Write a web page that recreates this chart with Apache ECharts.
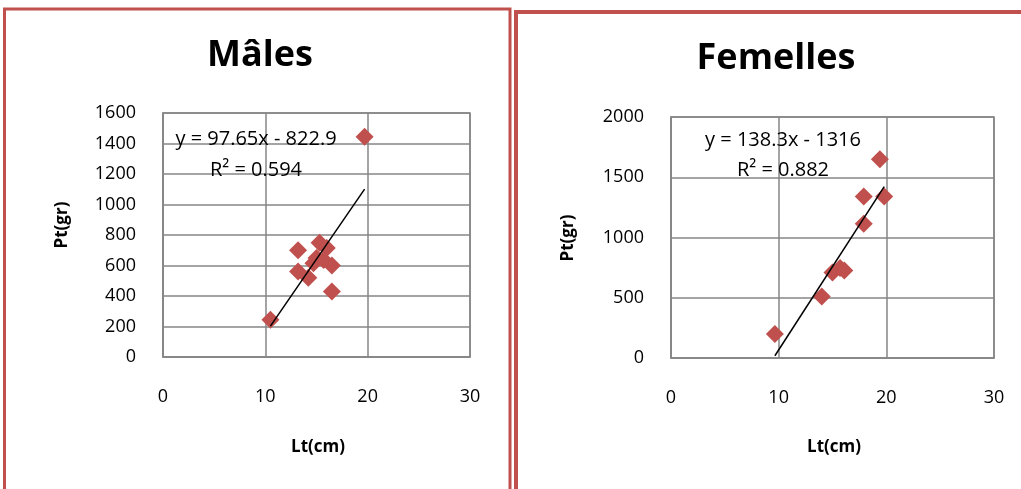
<!DOCTYPE html>
<html>
<head>
<meta charset="utf-8">
<script src="https://cdn.jsdelivr.net/npm/echarts@6/dist/echarts.min.js"></script>
<style>
html,body{margin:0;padding:0;background:#fff;}
#c{width:1021px;height:489px;}
</style>
</head>
<body>
<div id="c"></div>
<script>
// ---- data ----
var titles = ['Mâles', 'Femelles'];
var xAxisName = 'Lt(cm)';
var yAxisName = 'Pt(gr)';
var xTicks = [0, 10, 20, 30];
var malesYTicks = [0, 200, 400, 600, 800, 1000, 1200, 1400, 1600];
var femellesYTicks = [0, 500, 1000, 1500, 2000];

var malesLt = [10.5, 13.2, 13.2, 14.2, 14.7, 15.0, 15.3, 15.7, 16.0, 16.5, 16.5, 19.7];
var malesPt = [245, 700, 560, 520, 614, 650, 750, 636, 715, 600, 430, 1445];
var malesSlope = 97.65, malesIntercept = -822.9;
var malesEq = 'y = 97.65x - 822.9';
var malesR2 = 'R² = 0.594';

var femellesLt = [9.65, 14.0, 15.0, 15.7, 16.1, 17.9, 17.9, 19.4, 19.8];
var femellesPt = [200, 510, 710, 746, 726, 1115, 1340, 1650, 1340];
var femellesSlope = 138.3, femellesIntercept = -1316;
var femellesEq = 'y = 138.3x - 1316';
var femellesR2 = 'R² = 0.882';

// ---- helpers ----
function pairs(xs, ys){ return xs.map(function(x,i){ return [x, ys[i]]; }); }
function trend(xs, a, b){
  var mn = Math.min.apply(null, xs), mx = Math.max.apply(null, xs);
  return [[mn, a*mn + b], [mx, a*mx + b]];
}
var RED = '#C0504D', GRIDC = '#868686';
var FONT = '"Open Sans", "Liberation Sans", sans-serif';
function plain(v){ return String(v); }

function xAx(idx){
  return {
    gridIndex: idx, type: 'value', min: xTicks[0], max: xTicks[xTicks.length-1], interval: 10,
    axisLine: {show: true, onZero: false, lineStyle: {color: GRIDC, width: 1.5}},
    axisTick: {show: false},
    splitLine: {show: true, lineStyle: {color: GRIDC, width: 1.5}},
    axisLabel: {color: '#000', fontSize: 18, fontFamily: FONT, margin: 31, formatter: plain}
  };
}
function yAx(idx, ticks){
  return {
    gridIndex: idx, type: 'value', min: ticks[0], max: ticks[ticks.length-1], interval: ticks[1]-ticks[0],
    axisLine: {show: true, lineStyle: {color: GRIDC, width: 1.5}},
    axisTick: {show: false},
    splitLine: {show: true, lineStyle: {color: GRIDC, width: 1.5}},
    axisLabel: {color: '#000', fontSize: 18, fontFamily: FONT, margin: 27, formatter: plain}
  };
}
function txt(s, x, y, size, bold, rot){
  var o = {type: 'text', x: x, y: y, z: 100,
    style: {text: s, fill: '#000', font: (bold ? 'bold ' : '') + size + 'px ' + FONT,
      textAlign: 'center', textVerticalAlign: 'middle'}};
  if (rot) { o.rotation = rot; }
  return o;
}

var chart = echarts.init(document.getElementById('c'), null, {renderer: 'canvas'});
chart.setOption({
  animation: false,
  backgroundColor: '#fff',
  grid: [
    {left: 163, top: 113, width: 307, height: 244, show: true, borderColor: GRIDC, borderWidth: 1.5, backgroundColor: 'transparent'},
    {left: 671, top: 117, width: 323, height: 241, show: true, borderColor: GRIDC, borderWidth: 1.5, backgroundColor: 'transparent'}
  ],
  xAxis: [xAx(0), xAx(1)],
  yAxis: [yAx(0, malesYTicks), yAx(1, femellesYTicks)],
  series: [
    {type: 'scatter', xAxisIndex: 0, yAxisIndex: 0, symbol: 'diamond', symbolSize: 18,
     itemStyle: {color: RED, opacity: 1}, data: pairs(malesLt, malesPt), z: 3},
    {type: 'line', xAxisIndex: 0, yAxisIndex: 0, showSymbol: false, symbol: 'none',
     lineStyle: {color: '#000', width: 1.5}, data: trend(malesLt, malesSlope, malesIntercept), z: 4},
    {type: 'scatter', xAxisIndex: 1, yAxisIndex: 1, symbol: 'diamond', symbolSize: 18,
     itemStyle: {color: RED, opacity: 1}, data: pairs(femellesLt, femellesPt), z: 3},
    {type: 'line', xAxisIndex: 1, yAxisIndex: 1, showSymbol: false, symbol: 'none',
     lineStyle: {color: '#000', width: 1.5}, data: trend(femellesLt, femellesSlope, femellesIntercept), z: 4}
  ],
  graphic: [
    {type: 'rect', shape: {x: 4.5, y: 9, width: 505.5, height: 500}, style: {fill: 'none', stroke: RED, lineWidth: 3}, z: 50},
    {type: 'rect', shape: {x: 516, y: 12, width: 520, height: 500}, style: {fill: 'none', stroke: RED, lineWidth: 4}, z: 50},
    txt(titles[0], 260, 56, 36, true),
    txt(titles[1], 776, 59, 36, true),
    txt(malesEq, 256, 139, 20, false),
    txt(malesR2, 256, 170, 20, false),
    txt(femellesEq, 783, 140, 20, false),
    txt(femellesR2, 783, 170, 20, false),
    txt(xAxisName, 318, 447, 17, true),
    txt(xAxisName, 834, 447, 17, true),
    txt(yAxisName, 62, 225, 17, true, Math.PI/2),
    txt(yAxisName, 568, 238, 17, true, Math.PI/2)
  ]
});
</script>
</body>
</html>
